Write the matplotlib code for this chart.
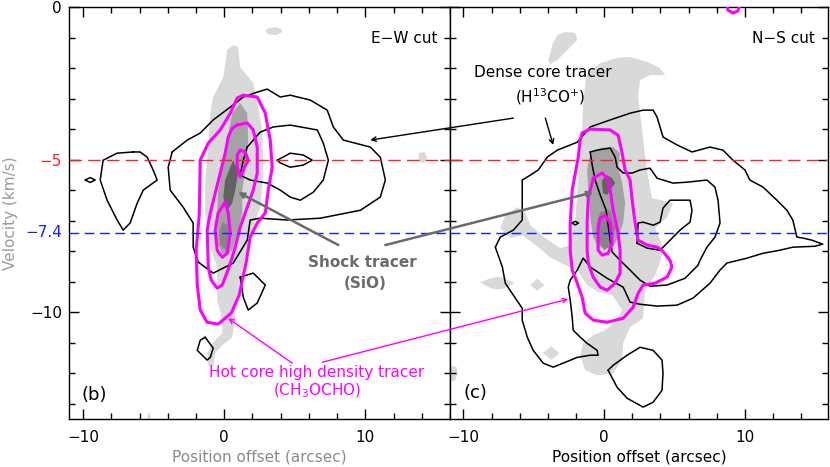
import numpy as np
import matplotlib
matplotlib.use("Agg")
import matplotlib.pyplot as plt
from matplotlib.patches import ConnectionPatch
from matplotlib.ticker import MultipleLocator

# ---------------- data (position offset [arcsec], velocity [km/s]) ----------------
v_ref_red = -5.0
v_ref_blue = -7.4

# ===== Panel (b) : E-W cut =====
# SiO (shock tracer) grey levels
b_sio_light_x = [0.64, 0.99, 1.13, 2.06, 2.41, 2.70, 2.77, 2.55, 2.06, 1.63, 1.35, 0.78, 0.78, 0.57, -0.14, -0.64,
                 -0.78, -1.13, -1.21, -0.85, -0.14, -0.14, -0.50, -0.50, -0.99, -1.35, -1.35, -1.13, -0.99, -0.78, -0.07, 0.21]
b_sio_light_v = [-1.25, -1.31, -1.97, -2.49, -3.28, -4.03, -5.44, -6.56, -7.21, -8.07, -8.95, -9.70, -10.26, -10.82, -11.08, -11.34,
                 -11.80, -11.74, -11.34, -11.02, -10.69, -10.20, -9.61, -8.52, -7.87, -6.75, -5.67, -4.59, -3.48, -2.95, -2.30, -1.41]
b_sio_spot1_x = [2.91, 3.12, 3.62, 4.04, 4.11, 3.69, 3.12]
b_sio_spot1_v = [-0.79, -0.69, -0.66, -0.72, -0.82, -0.92, -0.89]
b_sio_spot2_x = [13.76, 14.18, 14.40, 14.18, 13.83]
b_sio_spot2_v = [-4.79, -4.75, -4.95, -5.11, -5.08]
b_sio_spot3_x = [-5.53, -5.32, -5.11]
b_sio_spot3_v = [-13.6, -13.25, -13.6]
b_sio_mid_x = [1.13, 1.63, 1.70, 1.49, 1.28, 1.28, 0.92, 0.57, 0.21, -0.14, -0.50, -0.50, -0.43, -0.14, 0.21, 0.57]
b_sio_mid_v = [-3.15, -3.48, -4.36, -5.34, -6.00, -6.75, -7.41, -7.97, -8.13, -8.07, -7.74, -6.75, -6.00, -5.25, -4.36, -3.48]
b_sio_dark2_x = [-0.14, 0.28, 0.43, 0.14, -0.28, -0.35]
b_sio_dark2_v = [-7.05, -7.15, -7.64, -7.97, -7.80, -7.38]
b_sio_dark_x = [0.64, 0.99, 0.78, 0.57, 0.21, -0.07, 0.07, 0.43]
b_sio_dark_v = [-5.02, -5.41, -6.00, -6.43, -6.66, -6.23, -5.67, -5.25]

# H13CO+ (dense core tracer) black contours
b_h13_outer_x = [-3.69, -2.62, -1.70, -0.78, 0.43, 1.35, 2.34, 3.05, 3.97, 4.68, 6.10, 7.30, 7.73, 8.44, 10.35, 11.06, 11.42,
                 11.06, 9.65, 6.81, 4.47, 2.55, 1.84, 1.63, 0.64, -0.78, -1.84, -2.20, -2.20, -2.91, -3.83, -3.97]
b_h13_outer_v = [-4.75, -4.36, -4.13, -3.70, -3.28, -2.95, -2.79, -2.69, -2.95, -2.89, -3.05, -3.38, -3.93, -4.36, -4.59, -4.92,
                 -5.67, -6.23, -6.66, -6.92, -6.98, -6.92, -6.98, -7.64, -8.39, -8.72, -8.36, -7.87, -7.08, -6.56, -6.00, -5.25]
b_h13_mid_x = [1.63, 2.55, 3.48, 4.68, 6.60, 7.02, 7.38, 7.02, 6.31, 5.39, 4.68, 3.97, 3.05, 1.84, 1.13, 1.35]
b_h13_mid_v = [-4.59, -4.10, -3.93, -3.87, -4.03, -4.46, -5.02, -5.67, -6.07, -6.33, -6.23, -6.00, -5.77, -5.67, -5.51, -5.02]
b_h13_inner_x = [3.76, 4.68, 5.60, 6.24, 5.60, 4.68, 3.97]
b_h13_inner_v = [-5.02, -4.79, -4.85, -5.02, -5.18, -5.25, -5.11]
b_h13_west_x = [-6.45, -7.59, -8.58, -8.79, -8.30, -7.59, -7.16, -6.67, -6.17, -5.74, -4.75, -5.04, -5.46, -5.96]
b_h13_west_v = [-4.75, -4.79, -5.02, -5.67, -6.33, -6.98, -7.31, -7.08, -6.43, -6.00, -5.67, -5.34, -4.92, -4.75]
b_h13_dot_x = [-9.85, -9.50, -9.15, -9.50]
b_h13_dot_v = [-5.67, -5.59, -5.67, -5.75]
b_h13_low1_x = [1.13, 2.06, 2.91, 2.34, 1.70, 1.35]
b_h13_low1_v = [-8.85, -8.72, -9.11, -9.70, -9.93, -9.51]
b_h13_low2_x = [-1.35, -0.78, -0.99, -1.21, -1.91, -1.70]
b_h13_low2_v = [-10.82, -11.18, -11.48, -11.57, -11.25, -10.92]

# CH3OCHO (hot core tracer) magenta contours
b_ch3_outer_x = [1.35, 2.34, 2.91, 3.26, 3.40, 3.12, 2.91, 2.34, 1.84, 1.56, 1.06, 0.50, -0.43, -1.21, -1.70, -1.91,
                 -1.99, -1.77, -1.70, -1.13, -0.28, 0.43, 0.92]
b_ch3_outer_v = [-2.89, -2.95, -3.48, -4.36, -5.25, -6.00, -6.75, -7.08, -7.54, -8.36, -9.44, -10.03, -10.39, -10.33, -9.93, -9.11,
                 -7.97, -6.82, -5.02, -4.46, -4.03, -3.48, -2.98]
b_ch3_mid_x = [0.92, 1.63, 2.06, 2.34, 2.34, 2.06, 1.63, 1.13, 0.78, 0.35, -0.14, -0.50, -0.92, -1.13, -1.21, -0.99,
               -0.64, -0.28, 0.07, 0.28, 0.57]
b_ch3_mid_v = [-3.87, -3.80, -4.03, -4.59, -5.44, -6.00, -6.56, -7.21, -7.87, -8.52, -9.11, -9.21, -8.95, -8.52, -7.31, -6.75,
               -6.10, -5.44, -4.79, -4.26, -3.97]
b_ch3_in1_x = [1.13, 1.49, 1.70, 1.35, 1.13, 0.92, 0.92]
b_ch3_in1_v = [-4.69, -4.75, -5.02, -5.34, -5.57, -5.25, -4.85]
b_ch3_in2_x = [0.07, 0.28, 0.43, 0.21, -0.14, -0.50, -0.64, -0.43]
b_ch3_in2_v = [-6.39, -6.75, -7.41, -8.07, -8.20, -7.97, -7.31, -6.75]

# ===== Panel (c) : N-S cut =====
c_sio_light_x = [-1.49, -1.21, -0.28, 0.92, 1.84, 3.05, 3.97, 4.33, 3.26, 2.55, 2.41, 2.70, 2.91, 3.12, 3.40, 4.89, 4.47,
                 3.62, 4.18, 3.97, 3.62, 2.91, 2.77, 1.84, 1.35, 1.28, 0.64, -0.50, -1.35, -1.70, -1.49, -0.78, 0.07, 0.78,
                 1.28, 0.57, -0.43, -1.21, -1.91, -2.77, -3.83, -4.75, -5.82, -6.67, -7.38, -7.02, -6.17, -5.60, -5.25,
                 -4.18, -3.12, -2.41, -2.06, -1.84, -1.56]
c_sio_light_v = [-3.05, -2.16, -1.84, -1.67, -1.64, -1.80, -2.00, -2.23, -2.23, -2.39, -2.95, -4.03, -4.92, -5.57, -6.26, -6.43, -6.89,
                 -7.25, -7.87, -8.36, -8.79, -9.28, -10.20, -10.49, -11.02, -11.57, -12.00, -12.07, -11.90, -11.41, -11.02, -10.75, -10.59, -10.33,
                 -9.93, -9.44, -9.34, -9.11, -8.62, -8.46, -8.20, -7.84, -7.48, -7.57, -7.25, -6.82, -6.56, -6.72, -7.15,
                 -7.57, -7.90, -7.80, -6.98, -5.67, -4.13]
c_sio_spot1_x = [-3.97, -3.69, -3.33, -2.77, -2.06, -1.91, -2.62, -3.33, -3.83]
c_sio_spot1_v = [-1.74, -1.25, -0.92, -0.82, -0.85, -1.08, -1.41, -1.74, -1.87]
c_sio_spot2_x = [-8.83, -8.0, -7.59, -7.1, -6.35, -7.1, -7.59, -8.1]
c_sio_spot2_v = [-9.02, -8.88, -8.84, -8.88, -9.05, -9.22, -9.26, -9.2]
c_sio_spot3_x = [-5.25, -4.75, -4.25, -4.75]
c_sio_spot3_v = [-9.11, -8.90, -9.11, -9.30]
c_sio_spot4_x = [-4.36, -3.76, -3.16, -3.76]
c_sio_spot4_v = [-11.34, -11.12, -11.34, -11.56]
c_sio_spot5_x = [-11.2, -10.5, -10.4, -10.6, -11.2]
c_sio_spot5_v = [-11.75, -11.78, -12.0, -12.25, -12.25]
c_sio_mid_x = [-0.99, -0.28, 0.64, 1.13, 0.99, 1.28, 1.49, 1.35, 0.99, 0.64, 0.21, -0.43, -0.78, -0.99, -1.13, -1.21]
c_sio_mid_v = [-4.79, -4.62, -4.59, -4.79, -5.25, -5.77, -6.43, -7.08, -7.54, -7.87, -7.90, -7.87, -7.54, -6.89, -6.00, -5.34]
c_sio_dark2_x = [-0.28, 0.43, 0.78, 0.57, 0.00, -0.43, -0.50]
c_sio_dark2_v = [-6.72, -6.66, -7.25, -7.80, -7.97, -7.64, -7.05]
c_sio_dark_x = [-0.14, 0.21, 0.57, 0.78, 0.43, 0.21, -0.07, -0.14]
c_sio_dark_v = [-5.67, -5.51, -5.61, -5.77, -6.00, -6.16, -6.10, -5.90]

c_h13_outer_x = [-7.73, -7.38, -6.45, -5.82, -5.82, -5.25, -4.68, -4.04, -3.33, -1.91, -0.99, 0.43, 1.84, 2.77, 3.48, 3.76,
                 4.18, 5.18, 6.24, 7.52, 8.44, 9.15, 10.00, 10.35, 11.28, 12.27, 12.98, 13.40, 13.69, 14.11, 14.75, 15.53,
                 14.96, 13.40, 12.48, 11.28, 10.14, 8.72, 8.23, 7.52, 6.31, 5.18, 3.76, 2.55, 1.84, 1.35, 0.21, -0.99,
                 -1.49, -1.91, -2.41, -2.55, -2.41, -2.27, -2.20, -1.70, -1.21, -0.50, -0.43, -0.99, -1.91, -2.91, -3.62,
                 -4.33, -5.04, -5.46, -5.82, -5.82, -6.31, -7.02, -7.23]
c_h13_outer_v = [-7.87, -7.54, -7.31, -6.98, -5.67, -5.51, -5.34, -4.92, -4.69, -4.43, -3.93, -3.70, -3.48, -3.38, -3.38, -3.61,
                 -4.26, -4.52, -4.75, -4.59, -4.69, -5.02, -5.34, -5.67, -5.90, -6.33, -6.66, -6.98, -7.54, -7.57, -7.64, -7.77,
                 -7.84, -7.87, -7.97, -8.07, -8.23, -8.39, -8.62, -9.05, -9.54, -9.77, -9.80, -9.74, -9.67, -9.18, -8.89, -8.52,
                 -8.23, -8.62, -8.95, -9.18, -9.61, -10.16, -10.59, -10.82, -11.02, -11.25, -11.41, -11.41, -11.48, -11.67, -11.80,
                 -11.67, -11.25, -10.82, -10.26, -9.87, -9.54, -9.05, -8.52]
c_h13_mid_x = [-0.99, -0.50, 0.43, 0.78, 0.92, 1.35, 1.99, 2.55, 3.26, 3.76, 4.89, 5.89, 7.30, 7.87, 8.09, 8.23, 7.87,
               7.30, 6.81, 6.67, 5.74, 4.47, 3.26, 2.55, 1.84, 1.13, 0.57, 0.43, 0.28, 0.14, -0.28, -0.64, -0.85]
c_h13_mid_v = [-4.75, -4.69, -4.62, -4.92, -5.25, -5.44, -5.44, -5.34, -5.28, -5.61, -5.77, -5.74, -5.67, -5.90, -6.33, -7.08, -7.54,
               -7.87, -8.30, -8.46, -8.89, -9.11, -9.15, -8.95, -8.62, -8.30, -8.03, -7.64, -7.15, -6.66, -6.16, -5.67, -5.18]
c_h13_inner_x = [2.34, 2.41, 2.77, 3.48, 3.97, 4.18, 4.68, 6.10, 6.24, 6.10, 5.39, 4.47, 3.97, 3.05]
c_h13_inner_v = [-7.74, -7.08, -7.05, -7.15, -7.05, -6.59, -6.33, -6.33, -6.66, -7.05, -7.31, -7.74, -7.97, -7.90]
c_h13_dot_x = [-2.30, -2.06, -1.82, -2.06]
c_h13_dot_v = [-7.08, -7.02, -7.08, -7.14]
c_h13_low_x = [0.28, 0.64, 1.63, 2.55, 3.48, 4.11, 4.18, 4.11, 3.48, 2.77, 1.63, 0.92]
c_h13_low_v = [-11.90, -11.74, -11.41, -11.15, -11.25, -11.57, -12.00, -12.56, -12.95, -13.11, -12.82, -12.46]

c_ch3_outer_x = [-1.56, -0.99, 0.43, 0.99, 1.28, 1.49, 1.84, 1.99, 2.20, 2.41, 3.05, 3.76, 4.11, 4.68, 4.82, 4.47,
                 3.62, 2.77, 2.41, 2.06, 1.35, 0.21, -0.78, -1.35, -1.56, -1.91, -2.27, -2.41, -2.41, -2.27, -1.84, -1.70]
c_ch3_outer_v = [-4.13, -4.00, -4.03, -4.20, -4.79, -5.34, -5.67, -6.33, -7.08, -7.64, -7.80, -7.87, -7.97, -8.30, -8.52, -8.85,
                 -9.05, -9.11, -9.38, -9.84, -10.20, -10.33, -10.26, -10.03, -9.51, -9.05, -8.62, -7.97, -7.08, -6.00, -4.92, -4.36]
c_ch3_mid_x = [-0.78, -0.14, 0.21, 0.43, 0.64, 0.99, 1.13, 1.13, 0.78, 0.21, -0.28, -0.78, -1.13, -1.21, -1.21, -1.13, -0.85]
c_ch3_mid_v = [-5.61, -5.44, -5.61, -6.00, -6.66, -7.41, -7.97, -8.72, -9.05, -9.28, -9.18, -8.85, -8.39, -7.97, -7.08, -6.23, -5.77]
c_ch3_in_x = [-0.28, 0.07, 0.43, 0.57, 0.28, -0.14, -0.43, -0.43, -0.43]
c_ch3_in_v = [-6.92, -6.82, -7.08, -7.74, -8.07, -8.13, -7.97, -7.64, -7.21]
c_ch3_top_x = [8.72, 8.79, 9.15, 9.50, 9.65, 9.2]
c_ch3_top_v = [0.07, -0.10, -0.20, -0.13, 0.07, 0.30]

x_ticks = [-10, 0, 10]
y_ticks = [0, -5, -10]
y_tick_labels = ["0", "\u22125", "\u221210"]

# ---------------- styling ----------------
C_LIGHT, C_MID, C_DARK2, C_DARK = "#d9d9d9", "#a3a3a3", "#858585", "#626262"
C_MAG = "#ff00ff"
FS = 11

fig = plt.figure(figsize=(8.3, 4.67), dpi=100)
axL = fig.add_axes([69 / 830, 48 / 467, 381 / 830, 412 / 467])
axR = fig.add_axes([450 / 830, 48 / 467, 378 / 830, 412 / 467])


def closed(xs, vs):
    return list(xs) + [xs[0]], list(vs) + [vs[0]]


def fill(ax, xs, vs, color, z=1):
    ax.fill(xs, vs, color=color, lw=0, zorder=z)


def line(ax, xs, vs, color, lw, z):
    cx, cv = closed(xs, vs)
    ax.plot(cx, cv, color=color, lw=lw, zorder=z, solid_joinstyle="round", solid_capstyle="round")


# panel (b)
for xs, vs in [(b_sio_light_x, b_sio_light_v), (b_sio_spot1_x, b_sio_spot1_v),
               (b_sio_spot2_x, b_sio_spot2_v), (b_sio_spot3_x, b_sio_spot3_v)]:
    fill(axL, xs, vs, C_LIGHT, 1)
fill(axL, b_sio_mid_x, b_sio_mid_v, C_MID, 2)
fill(axL, b_sio_dark2_x, b_sio_dark2_v, C_DARK2, 3)
fill(axL, b_sio_dark_x, b_sio_dark_v, C_DARK, 3)
for xs, vs in [(b_h13_outer_x, b_h13_outer_v), (b_h13_mid_x, b_h13_mid_v), (b_h13_inner_x, b_h13_inner_v),
               (b_h13_west_x, b_h13_west_v), (b_h13_dot_x, b_h13_dot_v), (b_h13_low1_x, b_h13_low1_v),
               (b_h13_low2_x, b_h13_low2_v)]:
    line(axL, xs, vs, "black", 1.1, 5)
for xs, vs in [(b_ch3_outer_x, b_ch3_outer_v), (b_ch3_mid_x, b_ch3_mid_v), (b_ch3_in1_x, b_ch3_in1_v),
               (b_ch3_in2_x, b_ch3_in2_v)]:
    line(axL, xs, vs, C_MAG, 2.2, 6)

# panel (c)
for xs, vs in [(c_sio_light_x, c_sio_light_v), (c_sio_spot1_x, c_sio_spot1_v), (c_sio_spot2_x, c_sio_spot2_v),
               (c_sio_spot3_x, c_sio_spot3_v), (c_sio_spot4_x, c_sio_spot4_v), (c_sio_spot5_x, c_sio_spot5_v)]:
    fill(axR, xs, vs, C_LIGHT, 1)
fill(axR, c_sio_mid_x, c_sio_mid_v, C_MID, 2)
fill(axR, c_sio_dark2_x, c_sio_dark2_v, C_DARK2, 3)
fill(axR, c_sio_dark_x, c_sio_dark_v, C_DARK, 3)
for xs, vs in [(c_h13_outer_x, c_h13_outer_v), (c_h13_mid_x, c_h13_mid_v), (c_h13_inner_x, c_h13_inner_v),
               (c_h13_dot_x, c_h13_dot_v), (c_h13_low_x, c_h13_low_v)]:
    line(axR, xs, vs, "black", 1.1, 5)
for xs, vs in [(c_ch3_outer_x, c_ch3_outer_v), (c_ch3_mid_x, c_ch3_mid_v), (c_ch3_in_x, c_ch3_in_v),
               (c_ch3_top_x, c_ch3_top_v)]:
    line(axR, xs, vs, C_MAG, 2.2, 6)

for ax in (axL, axR):
    ax.axhline(v_ref_red, color="#ff2020", lw=1.0, dashes=(9, 4.5), zorder=7)
    ax.axhline(v_ref_blue, color="#1020ff", lw=1.0, dashes=(7, 4), zorder=7)
    ax.set_ylim(-13.5, 0)
    ax.set_xticks(x_ticks)
    ax.xaxis.set_minor_locator(MultipleLocator(2))
    ax.yaxis.set_minor_locator(MultipleLocator(1))
    ax.set_yticks(y_ticks)
    ax.tick_params(which="both", direction="in", top=True, right=True, width=1.0, labelsize=FS, pad=8)
    ax.tick_params(which="major", length=7)
    ax.tick_params(which="minor", length=4)
    for s in ax.spines.values():
        s.set_linewidth(1.0)

axL.set_xlim(-11, 16)
axR.set_xlim(-10.95, 15.9)
axL.set_yticklabels(y_tick_labels)
axL.get_yticklabels()[1].set_color("#ff2020")
axL.tick_params(axis="y", pad=5)
axR.tick_params(axis="y", labelleft=False)
axL.annotate("\u22127.4", xy=(0, v_ref_blue), xycoords=axL.get_yaxis_transform(), xytext=(-5, 0),
             textcoords="offset points", ha="right", va="center", color="#1020ff", fontsize=FS)

axL.set_xlabel("Position offset (arcsec)", fontsize=FS, color="#8a8a8a", labelpad=3)
axR.set_xlabel("Position offset (arcsec)", fontsize=FS, color="black", labelpad=3)
axL.set_ylabel("Velocity (km/s)", fontsize=FS, color="#9a9a9a")
axL.yaxis.set_label_coords(-0.135, 0.5)

axL.text(15.1, -1.02, "E\u2212W cut", ha="right", va="center", fontsize=FS)
axR.text(15.0, -1.02, "N\u2212S cut", ha="right", va="center", fontsize=FS)
axL.text(-9.22, -12.72, "(b)", ha="center", va="center", fontsize=13)
axR.text(-9.15, -12.66, "(c)", ha="center", va="center", fontsize=13)

# annotations
axR.text(-4.33, -2.13, "Dense core tracer", ha="center", va="center", fontsize=FS, zorder=10)
axR.text(-3.83, -2.95, "(H$^{13}$CO$^{+}$)", ha="center", va="center", fontsize=FS, zorder=10)
axL.text(9.79, -8.36, "Shock tracer", ha="center", va="center", fontsize=FS, color="#6b6b6b", fontweight="bold", zorder=10)
axL.text(10.0, -9.05, "(SiO)", ha="center", va="center", fontsize=FS, color="#6b6b6b", fontweight="bold", zorder=10)
axL.text(6.52, -11.97, "Hot core high density tracer", ha="center", va="center", fontsize=FS, color=C_MAG, zorder=10)
axL.text(6.60, -12.59, "(CH$_3$OCHO)", ha="center", va="center", fontsize=FS, color=C_MAG, zorder=10)


def arrow(xyA, axA, xyB, axB, color, lw, style="->", ms=8):
    cp = ConnectionPatch(xyA=xyA, coordsA=axA.transData, xyB=xyB, coordsB=axB.transData,
                         arrowstyle=style, color=color, lw=lw, mutation_scale=ms, zorder=12)
    fig.add_artist(cp)


arrow((-6.45, -3.64), axR, (10.35, -4.36), axL, "black", 1.0)
arrow((-4.18, -3.64), axR, (-3.62, -4.52), axR, "black", 1.0)
arrow((8.09, -7.80), axL, (0.99, -6.07), axL, "#6b6b6b", 1.8)
arrow((11.42, -7.80), axL, (-0.78, -6.07), axR, "#6b6b6b", 1.8)
arrow((4.82, -11.67), axL, (0.28, -10.20), axL, C_MAG, 1.0)
arrow((6.95, -11.64), axL, (-2.55, -9.57), axR, C_MAG, 1.0)

fig.savefig("out.png", dpi=100)
